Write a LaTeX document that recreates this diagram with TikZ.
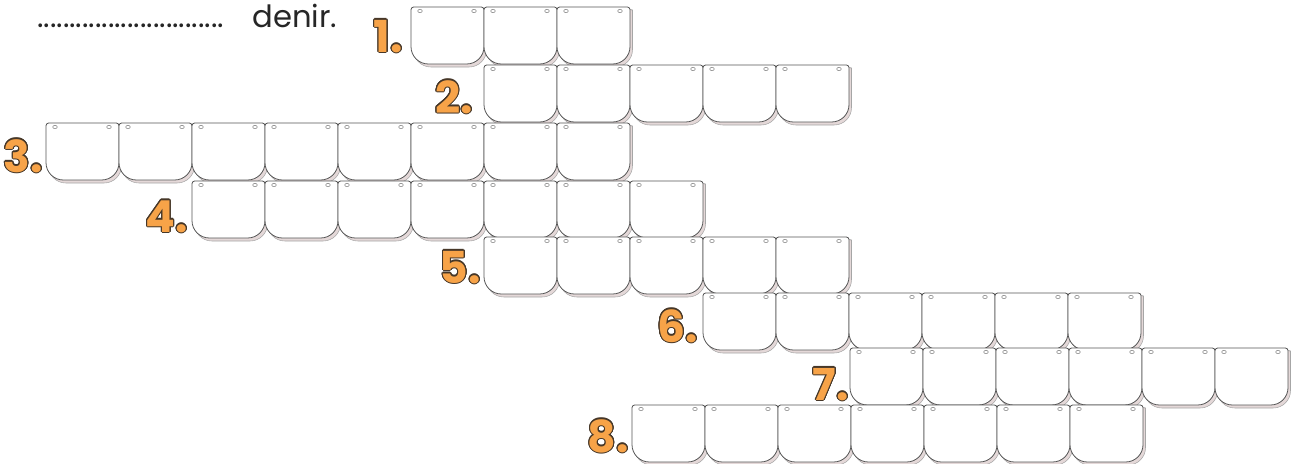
\documentclass[tikz,border=0pt]{standalone}
\usepackage{fontspec}
\setmainfont{Poppins}
\newfontfamily\numfont{Poppins}
\usepackage{contour}
\contourlength{0.8pt}
\usetikzlibrary{positioning}
\definecolor{numorange}{RGB}{247,163,72}
\definecolor{numedge}{RGB}{70,55,40}
\definecolor{shadowfill}{RGB}{228,216,216}
\definecolor{pocketedge}{RGB}{85,85,85}

\tikzset{
  pocket/.pic={
    % shadow band below and right of the pocket
    \filldraw[fill=shadowfill, draw=gray!70, line width=0.4pt]
      (2.5,30) [rounded corners=13pt] -- (2.5,60) -- (75.5,60) -- (75.5,20)
      [rounded corners=2pt] -- (75.5,2) -- (2.5,2) -- cycle;
    % the pocket itself
    \filldraw[fill=white, draw=pocketedge, line width=0.6pt]
      (0,30) [rounded corners=13pt] -- (0,57) -- (73,57) -- (73,20)
      [rounded corners=2pt] -- (73,0) -- (0,0) -- cycle;
    % two small holes
    \draw[gray, line width=0.4pt] (9,4) ellipse [x radius=2.3, y radius=1.6];
    \draw[gray, line width=0.4pt] (63,4) ellipse [x radius=2.3, y radius=1.6];
  },
  numlabel/.style={font=\numfont\bfseries\fontsize{33}{35}\selectfont,
    text=numorange, anchor=base east, inner sep=0pt},
  toptext/.style={font=\fontsize{23}{25}\selectfont, text=black!85,
    anchor=base west, inner sep=0pt},
}

\begin{document}
\begin{tikzpicture}[x=0.75pt, y=-0.75pt]
  \useasboundingbox (0,0) rectangle (1300,464);

  % heading line
  \node[toptext] (dots) at (37,27) {.............................};
  \node[toptext] (denir) at (252,27) {denir.};

  % rows of pockets: number / left x / top y / cells / label gap / label drop
  \foreach \n/\lx/\ty/\cnt/\gap/\dy in {1/411/7/3/8/45, 2/484/65/5/11/48,
      3/46/123/8/3/49, 4/192/181/7/4/51, 5/484/237/5/3/46,
      6/703/293/6/5/49, 7/850/348/6/1/52, 8/632/405/7/3/47}{
    \foreach \i in {1,...,\cnt}
      \pic at ({\lx+(\i-1)*73},\ty) {pocket};
    \node[numlabel] (num\n) at ({\lx-\gap},{\ty+\dy}) {\contour{numedge}{\n.}};
  }
\end{tikzpicture}
\end{document}
